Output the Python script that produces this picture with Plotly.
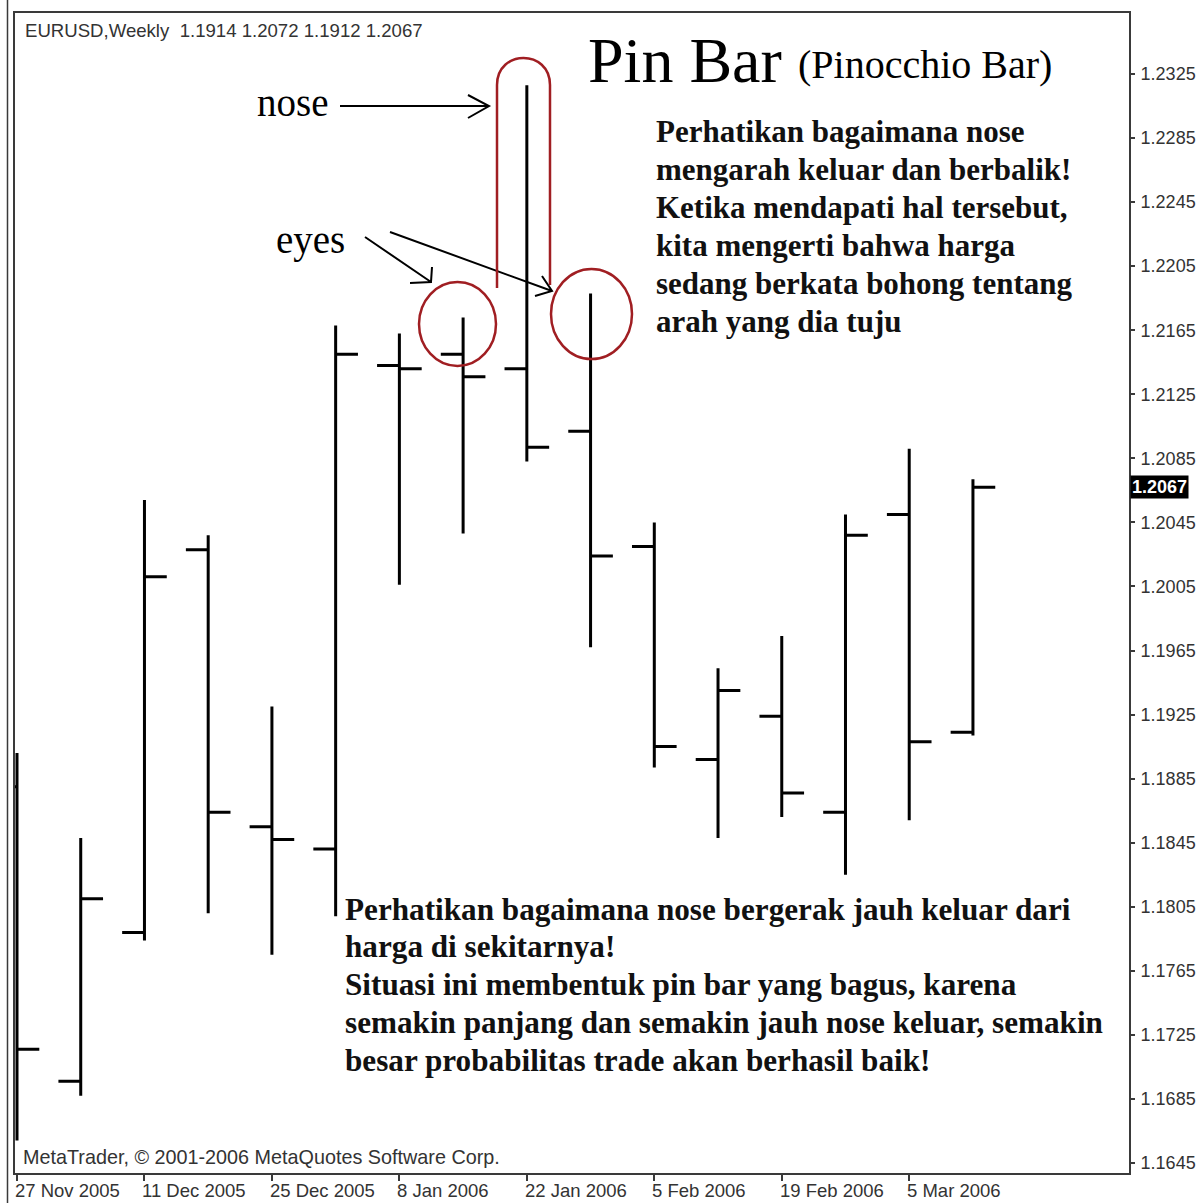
import plotly.graph_objects as go

# ---------------- data (EURUSD weekly) ----------------
weeks = ["27 Nov 2005", "4 Dec 2005", "11 Dec 2005", "18 Dec 2005", "25 Dec 2005",
         "1 Jan 2006", "8 Jan 2006", "15 Jan 2006", "22 Jan 2006", "29 Jan 2006",
         "5 Feb 2006", "12 Feb 2006", "19 Feb 2006", "26 Feb 2006", "5 Mar 2006",
         "12 Mar 2006"]
open_ = [1.1880, 1.1696, 1.1789, 1.2028, 1.1855, 1.1841, 1.2143, 1.2150,
         1.2141, 1.2102, 1.2030, 1.1897, 1.1924, 1.1864, 1.2050, 1.1914]
high = [1.1901, 1.1848, 1.2059, 1.2037, 1.1930, 1.2168, 1.2163, 1.2173,
        1.2318, 1.2188, 1.2045, 1.1954, 1.1974, 1.2050, 1.2091, 1.2072]
low = [1.1659, 1.1687, 1.1784, 1.1801, 1.1775, 1.1799, 1.2006, 1.2038,
       1.2083, 1.1967, 1.1892, 1.1848, 1.1861, 1.1825, 1.1859, 1.1912]
close = [1.1716, 1.1810, 1.2011, 1.1864, 1.1847, 1.2150, 1.2141, 1.2136,
         1.2092, 1.2024, 1.1905, 1.1940, 1.1876, 1.2037, 1.1908, 1.2067]
price_ticks = [round(1.1645 + 0.004 * k, 4) for k in range(18)]
date_tick_idx = [0, 2, 4, 6, 8, 10, 12, 14]
last_price = 1.2067
header = "EURUSD,Weekly  1.1914 1.2072 1.1912 1.2067"
copyright_txt = "MetaTrader, \u00a9 2001-2006 MetaQuotes Software Corp."
right_lines = ["Perhatikan bagaimana nose",
               "mengarah keluar dan berbalik!",
               "Ketika mendapati hal tersebut,",
               "kita mengerti bahwa harga",
               "sedang berkata bohong tentang",
               "arah yang dia tuju"]
bottom_lines = ["Perhatikan bagaimana nose bergerak jauh keluar dari",
                "harga di sekitarnya!",
                "Situasi ini membentuk pin bar yang bagus, karena",
                "semakin panjang dan semakin jauh nose keluar, semakin",
                "besar probabilitas trade akan berhasil baik!"]

# ---------------- geometry ----------------
W, H = 1199, 1203
LEFT, RIGHT, TOP, BOTTOM = 15, 1129, 13, 1173   # plot frame in window pixels
ML, MR, MT, MB = LEFT, W - RIGHT, TOP, H - BOTTOM
PW = RIGHT - LEFT
PH = BOTTOM - TOP


def px(x):
    return (x - LEFT) / PW


def py(y):
    return (BOTTOM - y) / PH


BAR0, STEP = 17.0, 63.73
x_range = [-(BAR0 - LEFT) / STEP, -(BAR0 - LEFT) / STEP + PW / STEP]
SCALE = 1089 / 0.068
y_range = [1.2325 - (BOTTOM - 74) / SCALE, 1.2325 + (74 - TOP) / SCALE]

RED = "#a01e22"
TXT = "#111111"
AX = "#3a3a3a"
GRAY = "#333333"
SANS = "Liberation Sans"
SERIF = "Liberation Serif"

idx = list(range(len(weeks)))
fig = go.Figure(go.Ohlc(
    x=idx, open=open_, high=high, low=low, close=close,
    increasing=dict(line=dict(color="black", width=3)),
    decreasing=dict(line=dict(color="black", width=3)),
    tickwidth=0.35, hoverinfo="skip", showlegend=False))

shapes = []
annotations = []


def path_from(points_groups):
    s = ""
    for grp in points_groups:
        for j, (x, y) in enumerate(grp):
            s += ("M " if j == 0 else " L ") + f"{px(x):.5f},{py(y):.5f} "
    return s


# arrows (black)
arrows = [
    [[(340, 106), (489, 106)], [(468, 95), (489, 106), (468, 118)]],
    [[(365, 237), (431, 282)], [(410, 283), (431, 282), (432, 267)]],
    [[(390, 232), (552, 291)], [(542, 276), (552, 291), (535, 296)]],
]
for a in arrows:
    shapes.append(dict(type="path", xref="paper", yref="paper",
                       path=path_from(a), line=dict(color="black", width=2)))

# nose outline (red)
nose = (f"M {px(497):.5f},{py(288):.5f} L {px(497):.5f},{py(85):.5f} "
        f"C {px(497):.5f},{py(49):.5f} {px(550):.5f},{py(49):.5f} {px(550):.5f},{py(85):.5f} "
        f"L {px(550):.5f},{py(285):.5f}")
shapes.append(dict(type="path", xref="paper", yref="paper", path=nose,
                   line=dict(color=RED, width=2.5)))
# eyes circles
for (cx, cy, rx, ry) in [(457.5, 324, 38.5, 42), (591.5, 314, 40.5, 45)]:
    shapes.append(dict(type="circle", xref="paper", yref="paper",
                       x0=px(cx - rx), x1=px(cx + rx), y0=py(cy + ry), y1=py(cy - ry),
                       line=dict(color=RED, width=2.5)))

# outer screenshot border line
shapes.append(dict(type="line", xref="paper", yref="paper",
                   x0=px(7.5), x1=px(7.5), y0=py(0), y1=py(H),
                   line=dict(color=AX, width=1.5)))


def text(x, y, s, size, family, color=TXT, bold=False):
    if bold:
        s = f"<b>{s}</b>"
    annotations.append(dict(x=px(x), y=py(y), xref="paper", yref="paper",
                            text=s, showarrow=False, xanchor="left", yanchor="middle",
                            font=dict(size=size, family=family, color=color)))


text(23, 30, header, 18.6, SANS, GRAY)
text(21, 1157, copyright_txt, 19.8, SANS, GRAY)
text(586, 61, "Pin Bar", 64, SERIF, "#000000")
text(796, 65, "(Pinocchio Bar)", 40, SERIF, "#000000")
text(255, 102, "nose", 39, SERIF, "#000000")
text(274, 240, "eyes", 39, SERIF, "#000000")

for k, line in enumerate(right_lines):
    text(654, 131 + 38.2 * k, line, 31, SERIF, TXT, bold=True)
for k, line in enumerate(bottom_lines):
    text(343, 909 + 37.8 * k, line, 31.2, SERIF, TXT, bold=True)

# date labels (left-aligned at tick marks)
for i in date_tick_idx:
    annotations.append(dict(x=i, xref="x", y=py(1190), yref="paper", text=weeks[i],
                            showarrow=False, xanchor="left", yanchor="middle", xshift=-4,
                            font=dict(size=18.5, family=SANS, color=GRAY)))

# current price label
annotations.append(dict(x=1.0, xref="paper", y=last_price, yref="y",
                        text=f"<b>{last_price:.4f}</b>", showarrow=False,
                        xanchor="left", yanchor="middle", xshift=1,
                        bgcolor="black", borderpad=1,
                        font=dict(size=18, family=SANS, color="white")))

fig.update_layout(
    template="none",
    width=W, height=H,
    margin=dict(l=ML, r=MR, t=MT, b=MB, pad=0, autoexpand=False),
    paper_bgcolor="white", plot_bgcolor="white",
    font=dict(family=SANS, color=GRAY),
    showlegend=False,
    shapes=shapes, annotations=annotations,
    xaxis=dict(range=x_range, rangeslider=dict(visible=False), showgrid=False,
               zeroline=False, tickvals=date_tick_idx, ticks="outside", ticklen=6,
               tickwidth=1.5, tickcolor=AX, showticklabels=False, showline=True,
               linecolor=AX, linewidth=2, mirror=True, fixedrange=True,
               automargin=False),
    yaxis=dict(range=y_range, side="right", showgrid=False, zeroline=False,
               tickvals=price_ticks, ticktext=[f"{v:.4f}" for v in price_ticks],
               ticks="outside", ticklen=4, tickwidth=1.5, tickcolor=AX,
               ticklabelstandoff=2,
               tickfont=dict(size=18, family=SANS, color=GRAY),
               showline=True, linecolor=AX, linewidth=2, mirror=True, fixedrange=True,
               automargin=False),
)

fig.write_html("out.html",
               config={"displayModeBar": False},
               post_script="document.body.style.margin='0';"
                           "document.body.style.overflow='hidden';"
                           "document.documentElement.style.overflow='hidden';")
